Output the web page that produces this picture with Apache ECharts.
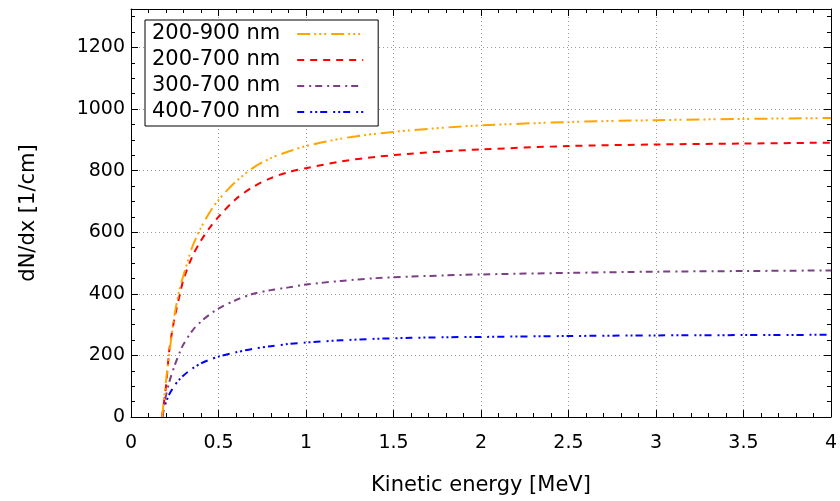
<!DOCTYPE html>
<html>
<head>
<meta charset="utf-8">
<script src="https://cdn.jsdelivr.net/npm/echarts@6/dist/echarts.min.js"></script>
<style>html,body{margin:0;padding:0;background:#fff}#c{width:840px;height:501px}</style>
</head>
<body>
<div id="c"></div>
<script>
var energy = [0.178, 0.19, 0.2, 0.22, 0.25, 0.28, 0.3, 0.35, 0.4, 0.45, 0.5, 0.6, 0.7, 0.8, 0.9, 1.0, 1.2, 1.4, 1.6, 1.8, 2.0, 2.5, 3.0, 3.5, 4.0];
var yield200_900 = [0, 65, 117, 211, 336, 421, 460, 552, 615, 665, 705, 765, 810, 841, 862, 880, 904, 920, 931, 940, 947, 958, 964, 968, 971];
var yield200_700 = [0, 55, 100, 222, 325, 400, 447, 521, 573, 615, 650, 708, 748, 776, 795, 808, 830, 845, 855, 863, 869, 880, 885, 888, 891];
var yield300_700 = [0, 45, 70, 116, 168, 212, 236, 280, 310, 333, 352, 380, 400, 412, 421, 430, 442, 451, 456, 460, 463, 468, 472, 474, 476];
var yield400_700 = [0, 30, 48, 75, 103, 124, 135, 157, 174, 186, 196, 210, 222, 230, 237, 242, 249, 254, 257, 259, 260, 263, 265, 266, 267];
var seriesNames = ['200-900 nm', '200-700 nm', '300-700 nm', '400-700 nm'];
var xTicks = [0, 0.5, 1, 1.5, 2, 2.5, 3, 3.5, 4];
var yTicks = [0, 200, 400, 600, 800, 1000, 1200];

function pairs(ys) { return energy.map(function (x, i) { return [x, ys[i]]; }); }

var FONT = 'DejaVu Sans';
var styles = [
  { color: '#ffa500', dash: [13, 4, 2, 3, 2, 3, 2, 5] },
  { color: '#ff0000', dash: [7, 6] },
  { color: '#7b3f85', dash: [7, 5, 2, 4] },
  { color: '#0000ff', dash: [7, 6, 2, 3, 2, 3] }
];
var allY = [yield200_900, yield200_700, yield300_700, yield400_700];

var gridLine = { show: true, lineStyle: { color: '#9a9a9a', type: [1, 3], width: 1 } };
function baseAxis(extra) {
  var a = {
    type: 'value',
    axisLine: { show: true, onZero: false, lineStyle: { color: '#000', width: 1 } },
    axisTick: { show: true, inside: true, length: 7, lineStyle: { color: '#000' } },
    minorTick: { show: true, length: 4, lineStyle: { color: '#000' } },
    splitLine: { show: false },
    axisLabel: { show: false }
  };
  for (var k in extra) a[k] = extra[k];
  return a;
}

var chart = echarts.init(document.getElementById('c'), null, { renderer: 'canvas' });
chart.setOption({
  backgroundColor: '#fff',
  animation: false,
  grid: { left: 131, right: 9, top: 9, bottom: 80, containLabel: false },
  legend: {
    orient: 'vertical',
    left: 145,
    top: 20,
    align: 'right',
    data: seriesNames,
    itemWidth: 66,
    itemHeight: 14,
    itemGap: 4,
    padding: [3, 14, 3, 7],
    borderColor: '#000',
    borderWidth: 1,
    backgroundColor: '#fff',
    itemStyle: { opacity: 0 },
    lineStyle: { width: 2 },
    textStyle: { fontFamily: FONT, fontSize: 21, color: '#000', lineHeight: 22, padding: [0, 12, 0, 0] }
  },
  xAxis: [
    baseAxis({
      min: 0, max: 4, interval: 0.5, position: 'bottom',
      minorTick: { show: true, splitNumber: 5, length: 4, lineStyle: { color: '#000' } },
      splitLine: gridLine,
      axisLabel: { show: true, fontFamily: FONT, fontSize: 19, color: '#000', margin: 17,
        formatter: function (v) { return xTicks.indexOf(v) >= 0 ? String(v) : ''; } },
      name: 'Kinetic energy [MeV]', nameLocation: 'middle', nameGap: 58,
      nameTextStyle: { fontFamily: FONT, fontSize: 21, color: '#000' }
    }),
    baseAxis({
      min: 0, max: 4, interval: 0.5, position: 'top',
      minorTick: { show: true, splitNumber: 5, length: 4, lineStyle: { color: '#000' } }
    })
  ],
  yAxis: [
    baseAxis({
      min: 0, max: 1325, interval: 200, position: 'left',
      minorTick: { show: true, splitNumber: 4, length: 4, lineStyle: { color: '#000' } },
      splitLine: gridLine,
      axisLabel: { show: true, fontFamily: FONT, fontSize: 19, color: '#000', margin: 6, showMaxLabel: false,
        formatter: function (v) { return yTicks.indexOf(v) >= 0 ? String(v) : ''; } },
      name: 'dN/dx [1/cm]', nameLocation: 'middle', nameGap: 92,
      nameTextStyle: { fontFamily: FONT, fontSize: 21, color: '#000' }
    }),
    baseAxis({
      min: 0, max: 1325, interval: 200, position: 'right',
      minorTick: { show: true, splitNumber: 4, length: 4, lineStyle: { color: '#000' } }
    })
  ],
  series: seriesNames.map(function (name, i) {
    return {
      name: name,
      type: 'line',
      xAxisIndex: 0,
      yAxisIndex: 0,
      data: pairs(allY[i]),
      showSymbol: false,
      symbol: 'none',
      smooth: 0.3,
      color: styles[i].color,
      lineStyle: { color: styles[i].color, width: 2, type: styles[i].dash, cap: 'butt' },
      z: 10 - i
    };
  })
});
</script>
</body>
</html>
